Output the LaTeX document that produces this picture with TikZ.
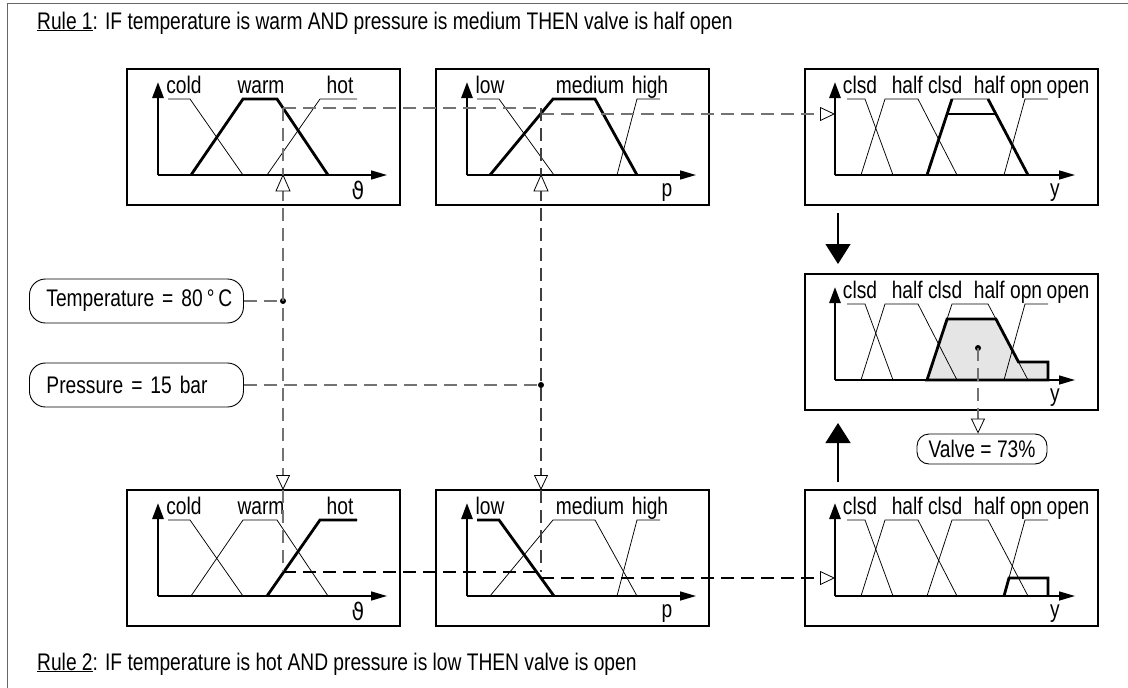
\documentclass[tikz,border=0pt]{standalone}
\usepackage{fontspec}
\setmainfont{Liberation Sans}[FakeStretch=0.80]
\newfontfamily\djv{DejaVu Sans}[FakeStretch=0.85]
\usetikzlibrary{arrows.meta,calc}
\newcommand\myaxes[2]{%
  \draw[haxis] (#1,106)--(#2,106);
  \draw[vaxis] (#1,106)--(#1,13);}
\newcommand\tsets[1]{%
  \draw[thinmf] (41,30)--(63,30)--(116,106);
  \draw[thinmf] (64,106)--(116,30)--(150,30)--(201,106);
  \draw[thinmf] (140,106)--(193,30)--(230,30);
  \myaxes{31}{260}
  \node[lbl] (#1c) at (57,24) {cold};
  \node[lbl] (#1w) at (134,24) {warm};
  \node[lbl] (#1h) at (213,24) {hot};
  \node[lbl] (#1v) at (231,130) {\djv ϑ};}
\newcommand\psets[1]{%
  \draw[thinmf] (41,30)--(63,30)--(118,106);
  \draw[thinmf] (54,106)--(117,30)--(159,30)--(201,106);
  \draw[thinmf] (181,106)--(201,30)--(224,30);
  \myaxes{31}{260}
  \node[lbl] (#1l) at (54,24) {low};
  \node[lbl] (#1m) at (154,24) {medium};
  \node[lbl] (#1h) at (214,24) {high};
  \node[lbl] (#1v) at (231,127) {p};}
\newcommand\vsets[1]{%
  \draw[thinmf] (42,30)--(60,30)--(88,106);
  \draw[thinmf] (56,106)--(80,30)--(113,30)--(152,106);
  \draw[thinmf] (122,106)--(147,30)--(183,30)--(223,106);
  \draw[thinmf] (199,106)--(220,30)--(243,30);
  \myaxes{30}{270}
  \node[lbl] (#1a) at (55,24) {clsd};
  \node[lbl] (#1b) at (122,24) {half clsd};
  \node[lbl] (#1c) at (203,24) {half opn};
  \node[lbl] (#1d) at (263,24) {open};
  \node[lbl] (#1v) at (250,127) {y};}
\begin{document}
\begin{tikzpicture}[x=1pt,y=-1pt,
  lbl/.style={font=\fontsize{24}{28}\selectfont, inner sep=0pt, anchor=base},
  panel/.style={draw, line width=2pt, minimum width=273pt, minimum height=136pt, inner sep=0pt, outer sep=0pt, anchor=north west},
  wpanel/.style={panel, minimum width=293pt},
  thinmf/.style={line width=0.75pt},
  thickmf/.style={line width=2.8pt},
  vaxis/.style={line width=2.8pt, -{Triangle[length=16pt,width=11pt]}},
  haxis/.style={line width=1.5pt, -{Triangle[length=16pt,width=9pt]}},
  dashg/.style={draw=black!55, line width=1.4pt, dash pattern=on 13pt off 7pt},
  dashb/.style={draw=black!75, line width=1.2pt, dash pattern=on 13pt off 7pt},
  dashk/.style={draw=black, line width=1.8pt, dash pattern=on 13pt off 7pt},
  intip/.style={-{Triangle[length=15pt,width=14pt,color=black,fill=white,line width=0.8pt]}},
  marker/.style={draw=black, fill=white, line width=0.8pt},
  inbox/.style={draw, line width=0.9pt, rounded corners=16pt, minimum height=44pt, font=\fontsize{24}{28}\selectfont},
  bigarrow/.style={line width=1.3pt, -{Triangle[length=20pt,width=25pt]}},
  fdot/.style={circle, fill=black, inner sep=0pt, minimum size=6pt},
]
\useasboundingbox (0,0) rectangle (1128,688);
\fill[white] (0,0) rectangle (1128,688);
\draw[black!60, line width=1pt] (7,688) -- (7,3) -- (1128,3);

\node[lbl, anchor=base west] (rule1) at (37,29) {\underline{Rule 1}: IF temperature is warm AND pressure is medium THEN valve is half open};
\node[lbl, anchor=base west] (rule2) at (37,670) {\underline{Rule 2}: IF temperature is hot AND pressure is low THEN valve is open};

% panels
\node[panel] (tl) at (127,69) {};
\node[panel] (tm) at (436,69) {};
\node[wpanel] (tr) at (805,69) {};
\node[wpanel] (mr) at (805,274) {};
\node[panel] (bl) at (127,490) {};
\node[panel] (bm) at (436,490) {};
\node[wpanel] (br) at (805,490) {};

% dashed guide line points
\coordinate (tw) at (283,108);
\coordinate (pw) at (541,108);
\coordinate (pm) at (541,114);
\coordinate (trin) at (835,114);
\coordinate (blin) at (283,490);
\coordinate (bmin) at (541,490);
\coordinate (bh) at (283,572);
\coordinate (bp) at (541,572);
\coordinate (bpl) at (541,578);
\coordinate (brin) at (835,578);

\begin{scope}[shift={(127,69)}]
  \tsets{tl}
  \draw[thickmf] (64,106)--(116,30)--(150,30)--(201,106);
\end{scope}
\begin{scope}[shift={(436,69)}]
  \psets{tm}
  \draw[thickmf] (54,106)--(117,30)--(159,30)--(201,106);
\end{scope}
\begin{scope}[shift={(805,69)}]
  \vsets{tr}
  \draw[thickmf] (122,106)--(147,30);
  \draw[thickmf] (183,30)--(223,106);
  \draw[thickmf] (142.1,45)--(190.9,45);
\end{scope}
\begin{scope}[shift={(805,274)}]
  \fill[black!10] (122,106)--(142.1,45)--(190.9,45)--(213.5,88)--(243,88)--(243,106)--cycle;
  \vsets{mr}
  \draw[thickmf] (122,106)--(142.1,45)--(190.9,45)--(213.5,88)--(243,88)--(243,106)--cycle;
  \node[fdot] (cdot) at (173,74) {};
\end{scope}
\begin{scope}[shift={(127,490)}]
  \tsets{bl}
  \draw[thickmf] (140,106)--(193,30)--(230,30);
\end{scope}
\begin{scope}[shift={(436,490)}]
  \psets{bm}
  \draw[thickmf] (41,30)--(63,30)--(118,106);
\end{scope}
\begin{scope}[shift={(805,490)}]
  \vsets{br}
  \draw[thickmf] (199,106)--(204,88)--(243,88)--(243,106);
\end{scope}

% inputs
\node[inbox, anchor=west, text width=180pt, inner xsep=17pt, align=left] (temp) at (29,301) {\mbox{Temperature = 80\,°\,C}};
\node[inbox, anchor=west, text width=180pt, inner xsep=17pt, align=left] (pres) at (29,385) {\mbox{Pressure = 15 bar}};
\node[fdot] (tdot) at (283,301) {};
\node[fdot] (pdot) at (541,385) {};
\node[inbox, minimum height=30pt, rounded corners=12pt, minimum width=130pt, inner sep=0pt] (valve) at (982,449) {Valve = 73\%};

\draw[dashg] (tw) -- (pw);
\draw[dashg, intip] (pm) -- (trin);
\draw[dashg, intip] (tw) -- (blin);
\draw[dashb, intip] (pw) -- (bmin);
\draw[dashg] (temp.east) -- (tdot);
\draw[dashg] (pres.east) -- (pdot);
\draw[dashg] (blin) -- (bh);
\draw[dashb] (bmin) -- (bp);
\draw[dashk] (bh) -- (bp);
\draw[dashk, intip] (bpl) -- (brin);
\draw[dashg, intip] (cdot.center) -- (cdot |- valve.north);

\draw[marker] (283,175) -- (276,191) -- (290,191) -- cycle;
\draw[marker] (541,175) -- (534,191) -- (548,191) -- cycle;

% big arrows
\draw[bigarrow] ($(tr.south west)+(33,8)$) -- ($(mr.north west)+(33,-10)$);
\draw[bigarrow] ($(br.north west)+(33,-8)$) -- ($(mr.south west)+(33,13)$);
\end{tikzpicture}
\end{document}
